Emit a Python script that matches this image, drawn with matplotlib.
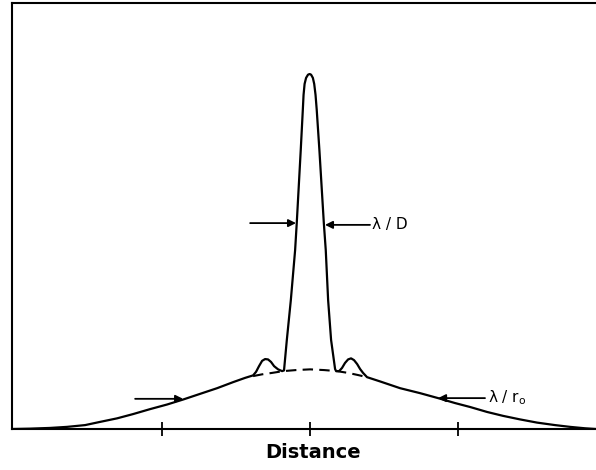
import matplotlib
matplotlib.use("Agg")
import matplotlib.pyplot as plt

# distance in tick units (ticks at -1, 0, 1), intensity normalised to the core peak
curve_x = [-2.014, -1.892, -1.757, -1.642, -1.520, -1.419, -1.304, -1.196, -1.081, -0.966,
           -0.858, -0.743, -0.628, -0.520, -0.439, -0.385, -0.365, -0.345, -0.324, -0.304,
           -0.284, -0.264, -0.243, -0.216, -0.189, -0.176, -0.157, -0.130, -0.101, -0.090,
           -0.063, -0.049, -0.044, -0.037, -0.027, -0.014, -0.003, 0.007, 0.019, 0.028,
           0.037, 0.045, 0.063, 0.093, 0.106, 0.122, 0.142, 0.169, 0.176,
           0.196, 0.216, 0.236, 0.257, 0.277, 0.297, 0.318, 0.338, 0.358, 0.385,
           0.473, 0.608, 0.743, 0.865, 0.980, 1.081, 1.196, 1.304, 1.419, 1.534,
           1.655, 1.757, 1.858, 1.932]
curve_y = [0.000, 0.001, 0.003, 0.006, 0.011, 0.020, 0.030, 0.042, 0.056, 0.069,
           0.083, 0.099, 0.115, 0.132, 0.144, 0.151, 0.161, 0.177, 0.192, 0.197,
           0.196, 0.189, 0.177, 0.168, 0.163, 0.165, 0.251, 0.363, 0.504, 0.580,
           0.786, 0.899, 0.941, 0.972, 0.989, 0.998, 1.000, 0.998, 0.989, 0.972,
           0.941, 0.899, 0.786, 0.580, 0.504, 0.363, 0.251, 0.169, 0.163,
           0.163, 0.172, 0.186, 0.196, 0.199, 0.194, 0.183, 0.169, 0.158, 0.146,
           0.134, 0.115, 0.101, 0.087, 0.073, 0.062, 0.048, 0.037, 0.027, 0.018,
           0.011, 0.006, 0.002, 0.000]

# seeing halo continued under the core (dashed)
halo_x = [-0.385, -0.324, -0.257, -0.182, -0.095, 0.0, 0.095, 0.182, 0.257, 0.324, 0.385]
halo_y = [0.149, 0.154, 0.158, 0.163, 0.166, 0.168, 0.166, 0.163, 0.158, 0.152, 0.146]

ticks = [-1, 0, 1]

fig = plt.figure(figsize=(5.96, 4.70), dpi=100)
ax = fig.add_axes([12 / 596, 41 / 470, 584 / 596, 426 / 470])

ax.plot(curve_x, curve_y, color="black", lw=1.6, solid_joinstyle="round")
ax.plot(halo_x, halo_y, color="black", lw=1.5, linestyle=(0, (5, 3)))

arrow = dict(arrowstyle="-|>", color="black", lw=1.3, mutation_scale=11, shrinkA=0, shrinkB=0)
# lambda/D arrows
ax.annotate("", xy=(-0.095, 0.580), xytext=(-0.405, 0.580), arrowprops=arrow)
ax.annotate("", xy=(0.101, 0.575), xytext=(0.405, 0.575), arrowprops=arrow)
ax.text(0.419, 0.575, "λ / D", fontsize=11, va="center", ha="left")
# lambda/r0 arrows
ax.annotate("", xy=(-0.858, 0.085), xytext=(-1.182, 0.085), arrowprops=arrow)
ax.annotate("", xy=(0.865, 0.087), xytext=(1.182, 0.087), arrowprops=arrow)
ax.text(1.203, 0.087, "λ / r$_{\\mathregular{o}}$", fontsize=11, va="center", ha="left")

ax.set_xlim(-2.014, 1.932)
ax.set_ylim(0, 1.2)
ax.set_xticks(ticks)
ax.set_xticklabels([])
ax.set_yticks([])
ax.tick_params(axis="x", direction="inout", length=10, width=1.3)
ax.spines["right"].set_visible(False)
for s in ["left", "bottom", "top"]:
    ax.spines[s].set_linewidth(1.5)

fig.text(313 / 596, 1 - 453 / 470, "Distance", fontsize=14, fontweight="bold",
         ha="center", va="center")

fig.savefig("out.png", dpi=100)
